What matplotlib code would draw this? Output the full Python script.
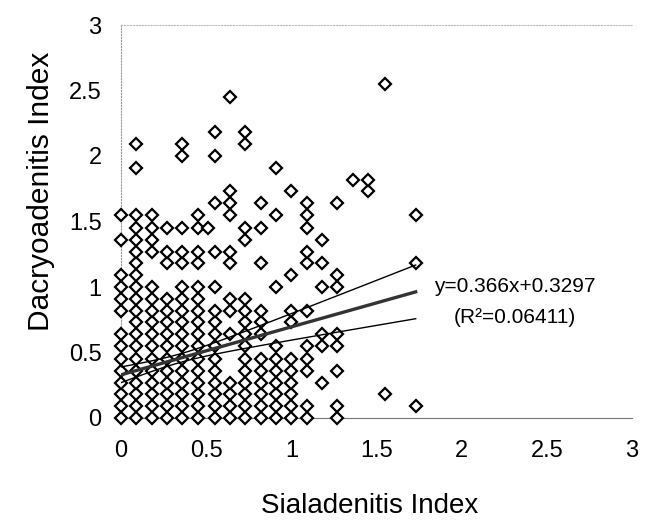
import matplotlib
matplotlib.use("Agg")
import matplotlib.pyplot as plt
import numpy as np

plt.rcParams['font.family'] = ['Liberation Sans', 'DejaVu Sans']

# sialadenitis index of each column of points
col_x = [0, 0.09, 0.18, 0.27, 0.36, 0.45, 0.55, 0.64, 0.73, 0.82,
         0.91, 1.0, 1.09, 1.18, 1.27, 1.36, 1.45, 1.55, 1.73]

# dacryoadenitis index of the points in each column (same order as col_x)
col_y = [
    [0, .09, .18, .27, .36, .45, .55, .64, .82, .91, 1.0, 1.09, 1.36, 1.55],
    [0, .09, .18, .27, .36, .45, .55, .64, .73, .82, .91, 1.0, 1.09, 1.18,
     1.27, 1.36, 1.45, 1.55, 1.91, 2.09],
    [0, .09, .18, .27, .36, .45, .55, .64, .73, .82, .91, 1.0, 1.27, 1.36,
     1.45, 1.55],
    [0, .09, .18, .27, .36, .45, .55, .64, .73, .82, .91, 1.18, 1.27, 1.45],
    [0, .09, .18, .27, .36, .45, .55, .64, .73, .82, .91, 1.0, 1.18, 1.27,
     1.45, 2.0, 2.09],
    [0, .09, .18, .27, .36, .45, .55, .64, .73, .82, .91, 1.0, 1.18, 1.27,
     1.45, 1.55],
    [0, .09, .18, .27, .36, .45, .55, .64, .73, .82, 1.0, 1.27, 1.64, 2.0,
     2.18],
    [0, .09, .18, .27, .64, .82, .91, 1.18, 1.27, 1.55, 1.64, 1.73, 2.45],
    [0, .09, .18, .27, .36, .45, .55, .64, .73, .82, .91, 1.36, 1.45, 2.09,
     2.18],
    [0, .09, .18, .27, .36, .45, .64, .73, .82, 1.18, 1.45, 1.64],
    [0, .09, .18, .27, .36, .45, .55, 1.0, 1.55, 1.91],
    [0, .09, .18, .27, .36, .45, .73, .82, 1.09, 1.73],
    [0, .09, .36, .45, .55, .82, 1.18, 1.27, 1.45, 1.55, 1.64],
    [.27, .55, .64, 1.0, 1.18, 1.36],
    [0, .09, .36, .55, .64, 1.0, 1.09, 1.64],
    [1.82],
    [1.73, 1.82],
    [.18, 2.55],
    [.09, 1.18, 1.55],
]
# one point sitting between two columns
extra_x = [0.51]
extra_y = [1.45]

slope = 0.366
intercept = 0.3297
r2 = 0.06411

# half width of the confidence band
band_x = [0, 0.5, 1.73]
band_hw = [0.06, 0.04, 0.205]

x = np.concatenate([[cx] * len(cy) for cx, cy in zip(col_x, col_y)] + [extra_x])
y = np.concatenate([np.array(cy, float) for cy in col_y] + [extra_y])

fig = plt.figure(figsize=(6.45, 5.27), dpi=100)
ax = fig.add_axes([121 / 645, 109 / 527, 511 / 645, 393 / 527])

ax.plot(x, y, linestyle='none', marker='D', markersize=5.8,
        markerfacecolor='white', markeredgecolor='black',
        markeredgewidth=1.6, clip_on=False, zorder=3)

# fitted line and its confidence band (hw^2 is quadratic in x)
xs = np.linspace(0, x.max(), 100)
fit = intercept + slope * xs
coef = np.polyfit(band_x, np.array(band_hw) ** 2, 2)
hw = np.sqrt(np.clip(np.polyval(coef, xs), 0, None))

ax.plot(xs, fit, color='#333333', linewidth=2.4, zorder=4)
ax.plot(xs, fit + hw, color='black', linewidth=1.0, zorder=4)
ax.plot(xs, fit - hw, color='black', linewidth=1.0, zorder=4)

ax.text(2.31, 1.0, f'y={slope}x+{intercept}', ha='center', va='center',
        fontsize=15)
ax.text(2.31, 0.765, f'(R²={r2})', ha='center', va='center', fontsize=15)

ax.set_xlim(0, 3)
ax.set_ylim(0, 3)
ax.set_xticks(np.arange(0, 3.01, 0.5))
ax.set_yticks(np.arange(0, 3.01, 0.5))
ax.set_xticklabels(['0', '0.5', '1', '1.5', '2', '2.5', '3'])
ax.set_yticklabels(['0', '0.5', '1', '1.5', '2', '2.5', '3'])
ax.tick_params(axis='both', length=0, labelsize=17)
ax.tick_params(axis='x', pad=16)
ax.tick_params(axis='y', pad=14)

ax.spines['right'].set_visible(False)
ax.spines['left'].set_color('#999999')
ax.spines['left'].set_linestyle(':')
ax.spines['top'].set_color('#bbbbbb')
ax.spines['top'].set_linestyle(':')
ax.spines['bottom'].set_color('#777777')
ax.spines['bottom'].set_linewidth(0.8)

ax.set_xlabel('Sialadenitis Index', fontsize=20)
ax.set_ylabel('Dacryoadenitis Index', fontsize=21.5)
ax.xaxis.set_label_coords(0.487, -0.19)
ax.yaxis.set_label_coords(-0.13, 0.578)

fig.savefig('out.png', dpi=100)
